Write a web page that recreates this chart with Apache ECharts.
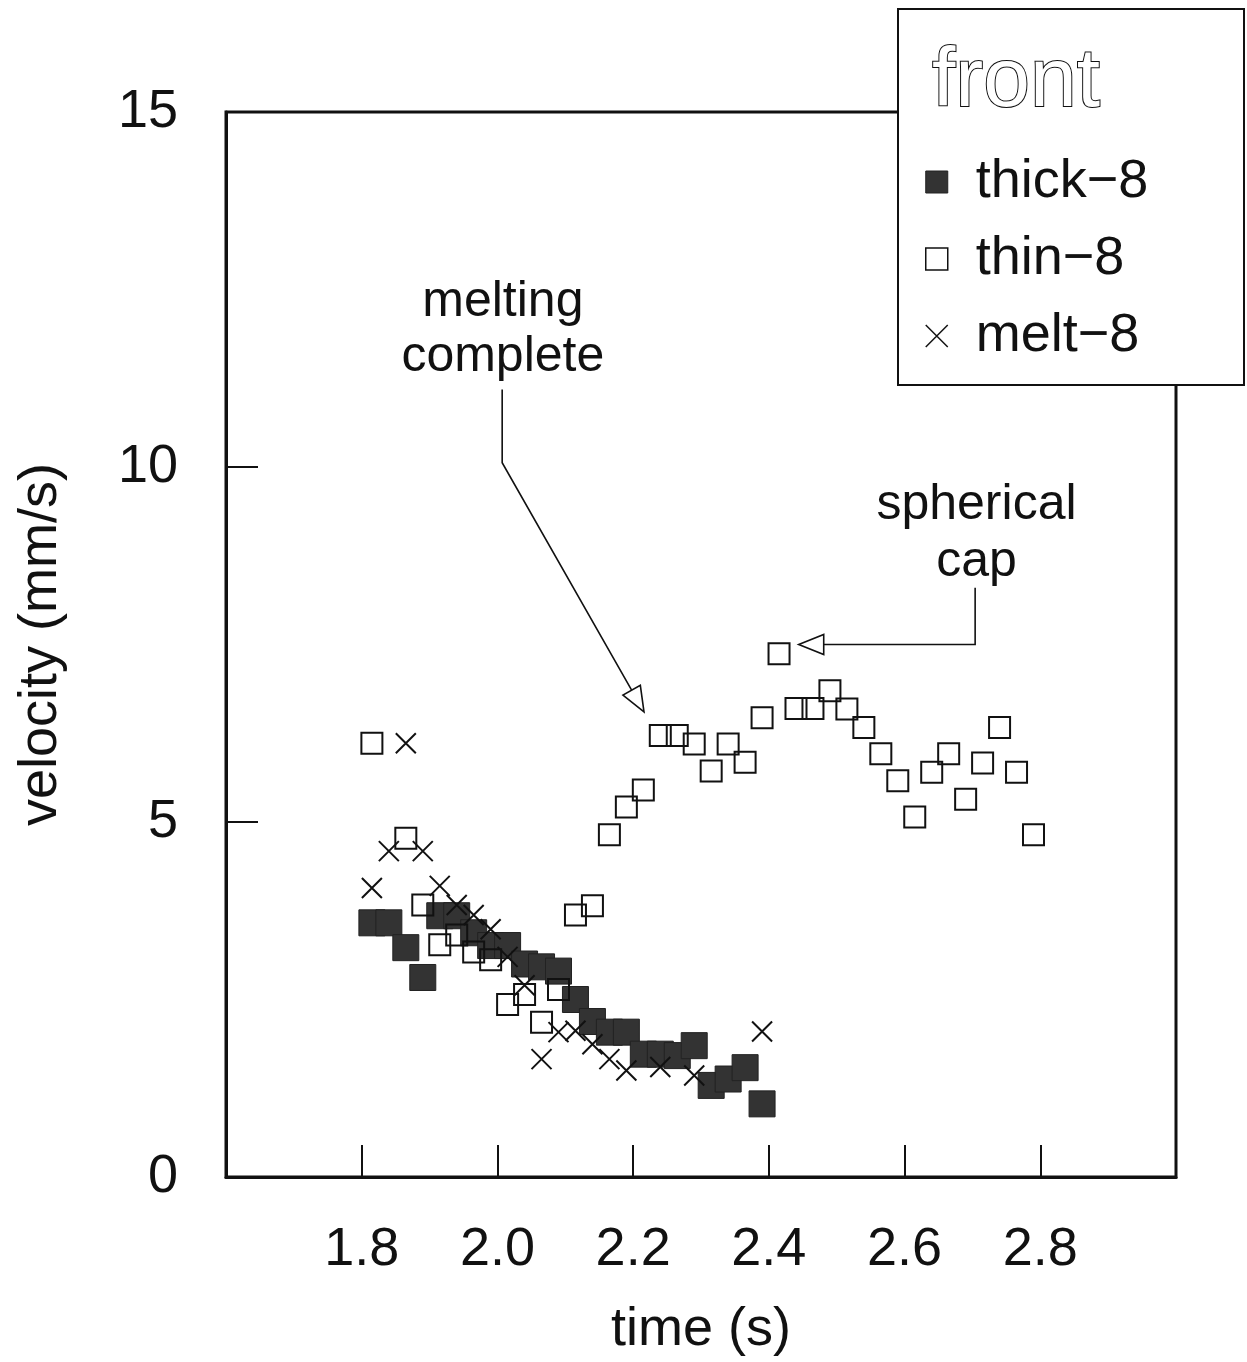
<!DOCTYPE html>
<html>
<head>
<meta charset="utf-8">
<script src="https://cdn.jsdelivr.net/npm/echarts@6/dist/echarts.min.js"></script>
<style>
  html, body { margin: 0; padding: 0; background: #fff; }
  #chart { width: 1247px; height: 1362px; }
</style>
</head>
<body>
<div id="chart"></div>
<script>
// Front velocity of the three runs, time in s, velocity in mm/s
const thickTime = [1.815, 1.840, 1.865, 1.890, 1.915, 1.940, 1.965, 1.990, 2.015, 2.040, 2.065, 2.090,
                   2.115, 2.140, 2.165, 2.190, 2.215, 2.240, 2.265, 2.290, 2.315, 2.340, 2.365, 2.390];
const thickVel  = [3.58, 3.58, 3.23, 2.81, 3.68, 3.68, 3.44, 3.26, 3.26, 3.00, 2.96, 2.90,
                   2.50, 2.19, 2.04, 2.04, 1.73, 1.73, 1.71, 1.85, 1.29, 1.38, 1.54, 1.03];

const thinTime = [1.815, 1.865, 1.890, 1.915, 1.940, 1.965, 1.990, 2.015, 2.040, 2.065, 2.090, 2.115, 2.140,
                  2.165, 2.190, 2.215, 2.240, 2.265, 2.290, 2.315, 2.340, 2.365, 2.390, 2.415, 2.440, 2.465,
                  2.490, 2.515, 2.540, 2.565, 2.590, 2.615, 2.640, 2.665, 2.690, 2.715, 2.740, 2.765, 2.790];
const thinVel  = [6.11, 4.77, 3.83, 3.27, 3.41, 3.17, 3.06, 2.43, 2.57, 2.18, 2.64, 3.69, 3.82,
                  4.82, 5.21, 5.45, 6.22, 6.22, 6.10, 5.72, 6.10, 5.84, 6.47, 7.37, 6.60, 6.60,
                  6.85, 6.59, 6.33, 5.96, 5.58, 5.07, 5.70, 5.96, 5.32, 5.83, 6.33, 5.70, 4.82];

const meltTime = [1.815, 1.840, 1.865, 1.890, 1.915, 1.940, 1.965, 1.990, 2.015, 2.040,
                  2.065, 2.090, 2.115, 2.140, 2.165, 2.190, 2.240, 2.290, 2.390];
const meltVel  = [4.07, 4.59, 6.11, 4.59, 4.10, 3.83, 3.69, 3.49, 3.10, 2.70,
                  1.66, 2.04, 2.06, 1.87, 1.66, 1.50, 1.55, 1.43, 2.05];

const seriesNames = ['thick\u22128', 'thin\u22128', 'melt\u22128'];
const legendTitle = 'front';
const xTickLabels = ['1.8', '2.0', '2.2', '2.4', '2.6', '2.8'];
const yTickLabels = ['0', '5', '10', '15'];

// Callouts, anchored in data units: label centre, then the leader polyline ending at the arrow tip
const noteMelting = { text: 'melting\ncomplete', at: [2.008, 11.94], path: [[2.007, 11.09], [2.007, 10.06], [2.216, 6.55]] };
const noteCap     = { text: 'spherical\ncap',     at: [2.706, 9.06],  path: [[2.704, 8.30], [2.704, 7.50], [2.444, 7.50]] };

const FONT = '"Liberation Sans", Arial, sans-serif';
const INK = '#111';
const crossPath = 'path://M0,0L10,10M10,0L0,10';

function pairs(xs, ys) { return xs.map((x, i) => [x, ys[i]]); }

const chart = echarts.init(document.getElementById('chart'), null, { renderer: 'canvas' });

chart.setOption({
  backgroundColor: '#fff',
  animation: false,
  grid: { left: 226, top: 112, right: 71, bottom: 182, show: true, borderColor: INK, borderWidth: 3, backgroundColor: 'transparent' },
  xAxis: {
    type: 'value', min: 1.6, max: 3.0, interval: 0.2,
    name: 'time (s)', nameLocation: 'middle', nameGap: 126,
    nameTextStyle: { fontFamily: FONT, fontSize: 54, color: INK },
    axisLine: { show: true, lineStyle: { color: INK, width: 3 } },
    axisTick: { show: true, inside: true, length: 32, lineStyle: { color: INK, width: 2 } },
    splitLine: { show: false },
    axisLabel: {
      margin: 46, fontFamily: FONT, fontSize: 54, color: INK,
      formatter: v => { const s = v.toFixed(1); return xTickLabels.indexOf(s) >= 0 ? s : ''; }
    }
  },
  yAxis: {
    type: 'value', min: 0, max: 15, interval: 5,
    name: 'velocity (mm/s)', nameLocation: 'middle', nameGap: 158, nameRotate: 90,
    nameTextStyle: { fontFamily: FONT, fontSize: 54, color: INK },
    axisLine: { show: true, lineStyle: { color: INK, width: 3 } },
    axisTick: { show: true, inside: true, length: 32, lineStyle: { color: INK, width: 2 } },
    splitLine: { show: false },
    axisLabel: {
      margin: 48, fontFamily: FONT, fontSize: 54, color: INK,
      formatter: v => { const s = String(Math.round(v)); return yTickLabels.indexOf(s) >= 0 ? s : ''; }
    }
  },
  legend: {
    orient: 'vertical', left: 920, top: 149, z: 20,
    itemWidth: 22, itemHeight: 22, itemGap: 21,
    textStyle: { fontFamily: FONT, fontSize: 54, color: INK, lineHeight: 56, padding: [0, 0, 0, 23] },
    selectedMode: false,
    data: [
      { name: seriesNames[0], icon: 'rect', itemStyle: { color: '#333', borderColor: '#222', borderWidth: 1 } },
      { name: seriesNames[1], icon: 'rect', itemStyle: { color: '#fff', borderColor: INK, borderWidth: 1.5 } },
      { name: seriesNames[2], icon: crossPath, itemStyle: { color: 'transparent', borderColor: INK, borderWidth: 1.5 } }
    ]
  },
  series: [
    {
      name: seriesNames[0], type: 'scatter', z: 2,
      symbol: 'rect', symbolSize: 26,
      itemStyle: { color: '#333', borderColor: '#222', borderWidth: 1, opacity: 1 },
      data: pairs(thickTime, thickVel)
    },
    {
      name: seriesNames[1], type: 'scatter', z: 3,
      symbol: 'rect', symbolSize: 21,
      itemStyle: { color: 'transparent', borderColor: INK, borderWidth: 2, opacity: 1 },
      data: pairs(thinTime, thinVel)
    },
    {
      name: seriesNames[2], type: 'scatter', z: 4,
      symbol: crossPath, symbolSize: 20,
      itemStyle: { color: 'transparent', borderColor: INK, borderWidth: 2, opacity: 1 },
      data: pairs(meltTime, meltVel)
    }
  ]
});

// Callout leaders with open triangular heads, plus the legend frame and its heading
function px(p) { return chart.convertToPixel({ gridIndex: 0 }, p); }

function callout(note, lineHeight) {
  const c = px(note.at);
  const pts = note.path.map(px);
  const tip = pts[pts.length - 1];
  const prev = pts[pts.length - 2];
  const dx = tip[0] - prev[0], dy = tip[1] - prev[1];
  const len = Math.hypot(dx, dy);
  const ux = dx / len, uy = dy / len;
  const headLen = 25, headHalf = 10;
  const base = [tip[0] - ux * headLen, tip[1] - uy * headLen];
  const left = [base[0] - uy * headHalf, base[1] + ux * headHalf];
  const right = [base[0] + uy * headHalf, base[1] - ux * headHalf];
  const shaft = pts.slice(0, -1).concat([base]);
  return [
    { type: 'text', x: c[0], y: c[1], z: 30,
      style: { text: note.text, fontFamily: FONT, fontSize: 50, lineHeight: lineHeight, fill: INK, align: 'center', verticalAlign: 'middle' } },
    { type: 'polyline', z: 30, shape: { points: shaft }, style: { stroke: INK, lineWidth: 1.6, fill: null } },
    { type: 'polygon', z: 30, shape: { points: [tip, left, right] }, style: { stroke: INK, lineWidth: 1.6, fill: '#fff' } }
  ];
}

chart.setOption({
  graphic: [
    { type: 'rect', z: 10, shape: { x: 898, y: 9, width: 346, height: 376 },
      style: { fill: '#fff', stroke: INK, lineWidth: 2 } },
    { type: 'text', z: 20, x: 932, y: 41,
      style: { text: legendTitle, fontFamily: FONT, fontSize: 84, fill: '#fff', stroke: INK, lineWidth: 2 } }
  ].concat(callout(noteMelting, 55), callout(noteCap, 57))
});
</script>
</body>
</html>
